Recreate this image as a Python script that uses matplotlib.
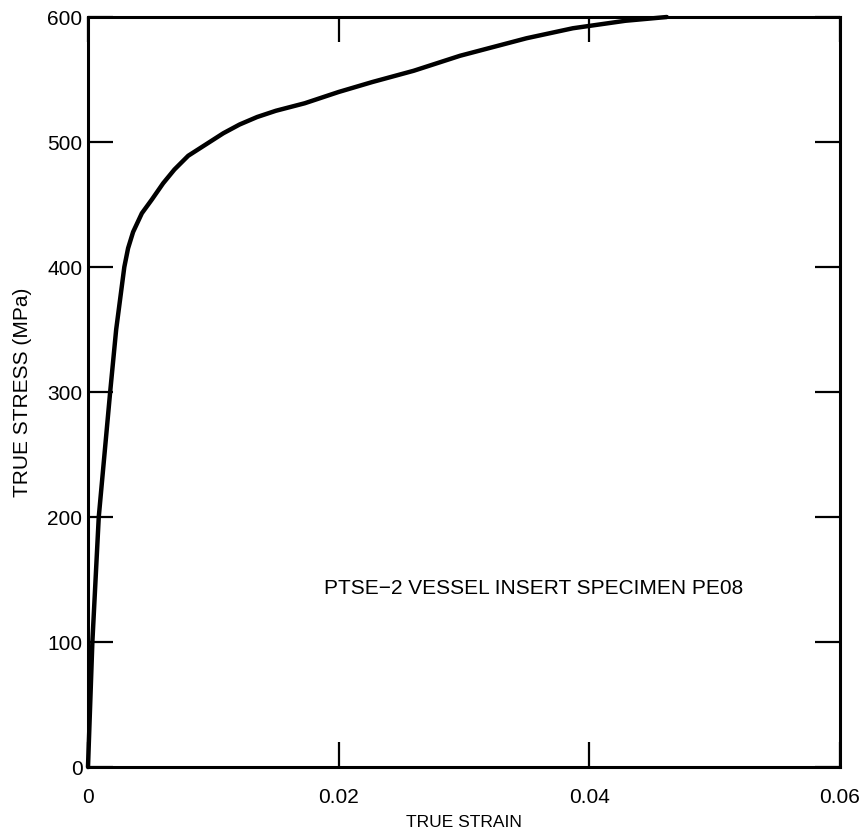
import matplotlib.pyplot as plt

plt.rcParams['font.family'] = ['Liberation Sans', 'DejaVu Sans']

# true stress-strain curve
strain = [0.0, 0.00035, 0.00086, 0.00177, 0.00225, 0.0029, 0.0032, 0.0036,
          0.0043, 0.0051, 0.0060, 0.0069, 0.0080, 0.0094, 0.0108, 0.0121,
          0.0135, 0.0150, 0.0173, 0.0200, 0.0227, 0.0260, 0.0297, 0.0350,
          0.0387, 0.0429, 0.0462]
stress = [0.0, 100, 200, 300, 350, 400, 415, 428,
          443, 454, 467, 478, 489, 498, 507, 514,
          520, 525, 531, 540, 548, 557, 569, 583,
          591, 597, 600]

xticks = [0, 0.02, 0.04, 0.06]
xtick_labels = ['0', '0.02', '0.04', '0.06']
yticks = [0, 100, 200, 300, 400, 500, 600]

fig = plt.figure(figsize=(8.66, 8.38), dpi=100)
ax = fig.add_axes([0.1016, 0.0847, 0.868, 0.895])

ax.plot(strain, stress, color='black', linewidth=3.2, solid_capstyle='round',
        solid_joinstyle='round', clip_on=False)

ax.set_xlim(0, 0.06)
ax.set_ylim(0, 600)
ax.set_xticks(xticks)
ax.set_xticklabels(xtick_labels)
ax.set_yticks(yticks)

ax.tick_params(axis='both', direction='in', length=18, width=1.6,
               top=True, right=True, labelsize=15, colors='black')
ax.tick_params(axis='x', pad=15)
ax.tick_params(axis='y', pad=4)

for s in ax.spines.values():
    s.set_linewidth(2.2)

ax.set_xlabel('TRUE STRAIN', fontsize=12.5, labelpad=6)
ax.set_ylabel('TRUE STRESS (MPa)', fontsize=15, labelpad=11)

ax.text(0.0188, 143, 'PTSE\u22122 VESSEL INSERT SPECIMEN PE08',
        fontsize=15, ha='left', va='center')

plt.savefig('out.png', dpi=100)
plt.close()
